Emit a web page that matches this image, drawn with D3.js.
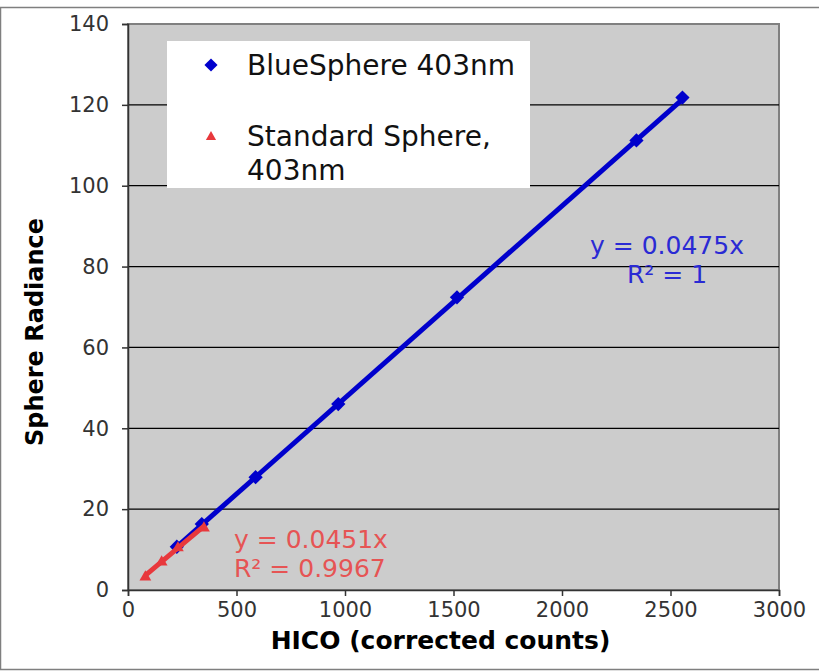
<!DOCTYPE html>
<html>
<head>
<meta charset="utf-8">
<script src="https://cdn.jsdelivr.net/npm/d3@7"></script>
<style>
  body { margin: 0; background: #fff; }
  text { font-family: "DejaVu Sans", Verdana, sans-serif; }
</style>
</head>
<body>
<div id="chart"></div>
<script>
const width = 819;
const height = 671;

// ---- data ----
const blueX = [225, 340, 588, 969, 1516, 2343, 2555];
const blueY = [10.7, 16.3, 27.9, 46.0, 72.4, 111.2, 121.8];
const redX = [80, 155, 230, 350];
const redY = [3.2, 6.9, 10.4, 15.3];
const blueSlope = 0.0475;
const redSlope = 0.0451;
const xTicks = [0, 500, 1000, 1500, 2000, 2500, 3000];
const yTicks = [0, 20, 40, 60, 80, 100, 120, 140];

const margin = { left: 128, top: 24, right: 40, bottom: 81 };

const svg = d3
  .select("#chart")
  .append("svg")
  .attr("width", width)
  .attr("height", height);

// outer frame
svg
  .append("rect")
  .attr("x", 0.5)
  .attr("y", 7.5)
  .attr("width", width + 5)
  .attr("height", 662)
  .attr("fill", "#fff")
  .attr("stroke", "#7f7f7f")
  .attr("stroke-width", 1.5);

const x = d3
  .scaleLinear()
  .domain([0, 3000])
  .range([margin.left, width - margin.right]);
const y = d3
  .scaleLinear()
  .domain([0, 140])
  .range([height - margin.bottom, margin.top]);

//-----plot area-----//
svg
  .append("rect")
  .attr("x", x(0))
  .attr("y", y(140))
  .attr("width", x(3000) - x(0))
  .attr("height", y(0) - y(140))
  .attr("fill", "#cccccc")
  .attr("stroke", "#808080")
  .attr("stroke-width", 2);

// gridlines
svg
  .append("g")
  .selectAll("line")
  .data(yTicks.filter((d) => d > 0 && d < 140))
  .join("line")
  .attr("x1", x(0))
  .attr("x2", x(3000))
  .attr("y1", (d) => y(d))
  .attr("y2", (d) => y(d))
  .attr("stroke", "#000")
  .attr("stroke-width", 1.2);

//-----axes-----//
const xAxis = svg
  .append("g")
  .attr("transform", `translate(0,${y(0)})`)
  .call(
    d3.axisBottom(x).tickValues(xTicks).tickFormat(d3.format("d")).tickSize(6).tickPadding(6)
  );
const yAxis = svg
  .append("g")
  .attr("transform", `translate(${x(0)},0)`)
  .call(d3.axisLeft(y).tickValues(yTicks).tickSize(6).tickPadding(13));

[xAxis, yAxis].forEach((g) => {
  g.attr("font-size", null).attr("font-family", null);
  g.select(".domain").attr("stroke", "#333").attr("stroke-width", 1.5);
  g.selectAll(".tick line").attr("stroke", "#333").attr("stroke-width", 1.5);
  g.selectAll(".tick text").attr("fill", "#333").style("font-size", "21px");
});

svg
  .append("text")
  .attr("x", (x(0) + x(3000)) / 2 - 13)
  .attr("y", 649)
  .attr("text-anchor", "middle")
  .style("font-size", "25px")
  .style("font-weight", "bold")
  .text("HICO (corrected counts)");

svg
  .append("text")
  .attr("transform", `translate(43,${(y(0) + y(140)) / 2 + 25}) rotate(-90)`)
  .attr("text-anchor", "middle")
  .style("font-size", "24px")
  .style("font-weight", "bold")
  .text("Sphere Radiance");

//-----trendlines-----//
function trend(xs, slope) {
  const ext = d3.extent(xs);
  return ext.map((v) => [x(v), y(v * slope)]);
}

svg
  .append("path")
  .attr("d", d3.line()(trend(blueX, blueSlope)))
  .attr("stroke", "#0000cc")
  .attr("stroke-width", 5)
  .attr("fill", "none");

svg
  .append("g")
  .selectAll("path")
  .data(blueX.map((v, i) => [v, blueY[i]]))
  .join("path")
  .attr("transform", (d) => `translate(${x(d[0])},${y(d[1])})`)
  .attr("d", d3.symbol(d3.symbolDiamond2, 130))
  .attr("fill", "#0000cc");

svg
  .append("path")
  .attr("d", d3.line()(trend(redX, redSlope)))
  .attr("stroke", "#e8383c")
  .attr("stroke-width", 5)
  .attr("fill", "none");

svg
  .append("g")
  .selectAll("path")
  .data(redX.map((v, i) => [v, redY[i]]))
  .join("path")
  .attr("transform", (d) => `translate(${x(d[0])},${y(d[1])})`)
  .attr("d", d3.symbol(d3.symbolTriangle, 60))
  .attr("fill", "#e8383c");

//-----equations-----//
svg
  .append("text")
  .attr("x", 667)
  .attr("y", 254)
  .attr("text-anchor", "middle")
  .attr("fill", "#2a2ad4")
  .style("font-size", "25px")
  .text(`y = ${blueSlope}x`);
svg
  .append("text")
  .attr("x", 667)
  .attr("y", 283)
  .attr("text-anchor", "middle")
  .attr("fill", "#2a2ad4")
  .style("font-size", "25px")
  .text("R² = 1");

svg
  .append("text")
  .attr("x", 234)
  .attr("y", 548)
  .attr("fill", "#e65454")
  .style("font-size", "25px")
  .text(`y = ${redSlope}x`);
svg
  .append("text")
  .attr("x", 234)
  .attr("y", 577)
  .attr("fill", "#e65454")
  .style("font-size", "25px")
  .text("R² = 0.9967");

//-----legend-----//
const legend = svg.append("g");
legend
  .append("rect")
  .attr("x", 167)
  .attr("y", 41)
  .attr("width", 363)
  .attr("height", 147)
  .attr("fill", "#fff");
legend
  .append("path")
  .attr("transform", "translate(211,65)")
  .attr("d", d3.symbol(d3.symbolDiamond2, 110))
  .attr("fill", "#0000cc");
legend
  .append("path")
  .attr("transform", "translate(211,137)")
  .attr("d", d3.symbol(d3.symbolTriangle, 45))
  .attr("fill", "#e8383c");
const legendText = [
  ["BlueSphere 403nm", 75],
  ["Standard Sphere,", 146],
  ["403nm", 180],
];
legend
  .selectAll("text")
  .data(legendText)
  .join("text")
  .attr("x", 247)
  .attr("y", (d) => d[1])
  .attr("fill", "#111")
  .style("font-size", "28px")
  .text((d) => d[0]);
</script>
</body>
</html>
